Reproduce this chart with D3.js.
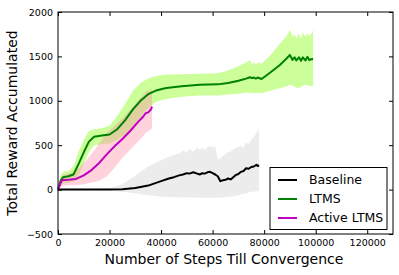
<!DOCTYPE html>
<html lang="en">
  <head>
    <meta charset="utf-8">
    <title>Reward vs steps</title>
    <script src="https://d3js.org/d3.v7.js"></script>
    <style>
      body { margin: 0; background: #fff; }
      text { font-family: "DejaVu Sans", sans-serif; }
    </style>
  </head>
  <body>
    <script>

  // width and height
  var w = 399;
  var h = 275;
  var margin = { top: 12, right: 6, bottom: 41, left: 58 };

  // Baseline: steps, mean, lower, upper
  var baseSteps = [0, 10000, 20000, 25000, 30000, 35000, 40000, 43000, 45000, 47000, 48500, 50000, 51000, 52500, 54000, 55000, 56000, 57000, 58000, 59000, 60000, 61000, 62000, 63000, 64000, 65000, 66000, 67000, 68000, 69000, 70000, 71000, 72000, 73000, 74000, 75000, 76000, 77000, 77500, 78000];
  var baseMean  = [0, 0, 0, 3, 18, 45, 95, 125, 140, 160, 170, 185, 180, 195, 180, 170, 185, 180, 195, 200, 185, 170, 150, 95, 105, 110, 125, 115, 140, 165, 175, 200, 210, 240, 235, 255, 260, 280, 265, 275];
  var baseLow   = [0, -2, -10, -25, -45, -65, -78, -82, -85, -87, -88, -90, -90, -90, -91, -92, -92, -92, -93, -93, -93, -93, -93, -90, -88, -85, -82, -80, -75, -70, -62, -55, -48, -40, -32, -25, -22, -20, -18, -15];
  var baseHigh  = [0, 2, 15, 60, 160, 260, 330, 370, 390, 410, 440, 420, 455, 430, 470, 450, 470, 440, 480, 490, 470, 490, 340, 350, 380, 400, 420, 430, 450, 470, 480, 490, 470, 530, 510, 560, 590, 640, 660, 690];

  // LTMS
  var ltmsSteps = [0, 1000, 2000, 4000, 6000, 8000, 10000, 12000, 14000, 17000, 20000, 23000, 26000, 29000, 32000, 35000, 38000, 42000, 48000, 55000, 62000, 66000, 70000, 73000, 74500, 75300, 76000, 76800, 77500, 79000, 82000, 86000, 88500, 90000, 91000, 91800, 92500, 93500, 94300, 95000, 96000, 96800, 97500, 98500, 99000];
  var ltmsMean  = [0, 100, 140, 150, 170, 290, 420, 540, 595, 608, 620, 680, 780, 900, 1000, 1075, 1115, 1145, 1165, 1180, 1185, 1200, 1225, 1250, 1265, 1255, 1262, 1250, 1262, 1245, 1310, 1400, 1470, 1515, 1460, 1490, 1455, 1490, 1450, 1490, 1455, 1495, 1460, 1470, 1468];
  var ltmsLow   = [0, 40, 70, 80, 90, 160, 290, 420, 500, 510, 520, 560, 620, 710, 820, 920, 990, 1020, 1045, 1060, 1060, 1070, 1080, 1090, 1090, 1085, 1088, 1084, 1090, 1085, 1110, 1140, 1160, 1180, 1170, 1160, 1150, 1140, 1160, 1170, 1180, 1175, 1170, 1165, 1170];
  var ltmsHigh  = [0, 160, 200, 210, 260, 430, 560, 660, 680, 690, 720, 830, 960, 1110, 1200, 1250, 1280, 1295, 1300, 1305, 1310, 1340, 1390, 1430, 1460, 1410, 1440, 1400, 1430, 1420, 1500, 1640, 1720, 1800, 1720, 1750, 1700, 1760, 1700, 1770, 1720, 1760, 1730, 1760, 1800];

  // Active LTMS
  var actSteps = [0, 800, 1500, 4000, 7000, 10000, 13000, 16000, 19000, 22000, 25000, 28000, 31000, 33000, 34000, 35000, 36000, 36500];
  var actMean  = [0, 60, 105, 110, 120, 160, 220, 300, 400, 490, 570, 660, 760, 820, 860, 870, 900, 935];
  var actLow   = [0, 20, 40, 50, 50, 60, 80, 100, 150, 250, 360, 450, 540, 600, 640, 660, 680, 690];
  var actHigh  = [0, 100, 160, 180, 210, 300, 400, 520, 640, 720, 800, 900, 1000, 1060, 1100, 1110, 1120, 1130];

  var seriesNames = ["Baseline", "LTMS", "Active LTMS"];
  var xTicks = [0, 20000, 40000, 60000, 80000, 100000, 120000];
  var yTicks = [-500, 0, 500, 1000, 1500, 2000];

  var lineColors = ["#000000", "#008000", "#bf00bf"];
  var fillColors = ["#808080", "#7fff00", "#ff8fa8"];
  var fillOpacity = [0.15, 0.4, 0.4];

  function rows(steps, mean, low, high) {
    return steps.map((s, i) => ({ x: s, m: mean[i], lo: low[i], hi: high[i] }));
  }
  var series = [
    rows(baseSteps, baseMean, baseLow, baseHigh),
    rows(ltmsSteps, ltmsMean, ltmsLow, ltmsHigh),
    rows(actSteps, actMean, actLow, actHigh)
  ];

  // set up scales
  var xScale = d3.scaleLinear()
    .domain([0, 130000])
    .range([margin.left, w - margin.right]);

  var yScale = d3.scaleLinear()
    .domain([-500, 2000])
    .range([h - margin.bottom, margin.top]);

  var svg = d3.select("body")
    .append("svg")
    .attr("width", w)
    .attr("height", h);

  var area = d3.area()
    .x(d => xScale(d.x))
    .y0(d => yScale(d.lo))
    .y1(d => yScale(d.hi));

  var line = d3.line()
    .x(d => xScale(d.x))
    .y(d => yScale(d.m));

  // bands
  svg.selectAll(".band")
    .data(series)
    .enter()
    .append("path")
    .attr("class", "band")
    .attr("d", area)
    .attr("fill", (d, i) => fillColors[i])
    .attr("fill-opacity", (d, i) => fillOpacity[i]);

  // mean lines
  svg.selectAll(".mean")
    .data(series)
    .enter()
    .append("path")
    .attr("class", "mean")
    .attr("d", line)
    .attr("fill", "none")
    .attr("stroke", (d, i) => lineColors[i])
    .attr("stroke-width", 2)
    .attr("stroke-linejoin", "round");

  // axes, ticks pointing inward on all four sides
  var fmt = d => d < 0 ? "\u2212" + Math.abs(d) : String(d);
  var tickLen = 4;

  svg.append("g")
    .attr("transform", "translate(0," + (h - margin.bottom) + ")")
    .call(d3.axisBottom(xScale).tickValues(xTicks).tickFormat(fmt).tickSizeInner(-tickLen).tickSizeOuter(0).tickPadding(5));
  svg.append("g")
    .attr("transform", "translate(0," + margin.top + ")")
    .call(d3.axisTop(xScale).tickValues(xTicks).tickFormat("").tickSizeInner(-tickLen).tickSizeOuter(0));
  svg.append("g")
    .attr("transform", "translate(" + margin.left + ",0)")
    .call(d3.axisLeft(yScale).tickValues(yTicks).tickFormat(fmt).tickSizeInner(-tickLen).tickSizeOuter(0).tickPadding(5));
  svg.append("g")
    .attr("transform", "translate(" + (w - margin.right) + ",0)")
    .call(d3.axisRight(yScale).tickValues(yTicks).tickFormat("").tickSizeInner(-tickLen).tickSizeOuter(0));

  svg.selectAll(".domain").remove();
  svg.selectAll(".tick text").attr("font-size", 9.5).attr("fill", "#000");
  svg.selectAll(".tick line").attr("stroke", "#000");

  // frame
  svg.append("rect")
    .attr("x", margin.left)
    .attr("y", margin.top)
    .attr("width", w - margin.left - margin.right)
    .attr("height", h - margin.top - margin.bottom)
    .attr("fill", "none")
    .attr("stroke", "#000")
    .attr("stroke-width", 1);

  // axis titles
  svg.append("text")
    .attr("x", 224)
    .attr("y", 264)
    .attr("text-anchor", "middle")
    .attr("font-size", 14)
    .text("Number of Steps Till Convergence");

  svg.append("text")
    .attr("transform", "translate(17,123) rotate(-90)")
    .attr("text-anchor", "middle")
    .attr("font-size", 14)
    .text("Total Reward Accumulated");

  // legend
  var legend = svg.append("g");
  legend.append("rect")
    .attr("x", 270)
    .attr("y", 167.5)
    .attr("width", 117)
    .attr("height", 62)
    .attr("fill", "#fff")
    .attr("stroke", "#000");

  var items = legend.selectAll(".item")
    .data(seriesNames)
    .enter()
    .append("g")
    .attr("transform", (d, i) => "translate(0," + (180 + i * 19) + ")");
  items.append("line")
    .attr("x1", 278).attr("x2", 297)
    .attr("stroke", (d, i) => lineColors[i])
    .attr("stroke-width", 2);
  items.append("text")
    .attr("x", 309)
    .attr("dy", "0.35em")
    .attr("font-size", 12.5)
    .text(d => d);

    </script>
  </body>
</html>
